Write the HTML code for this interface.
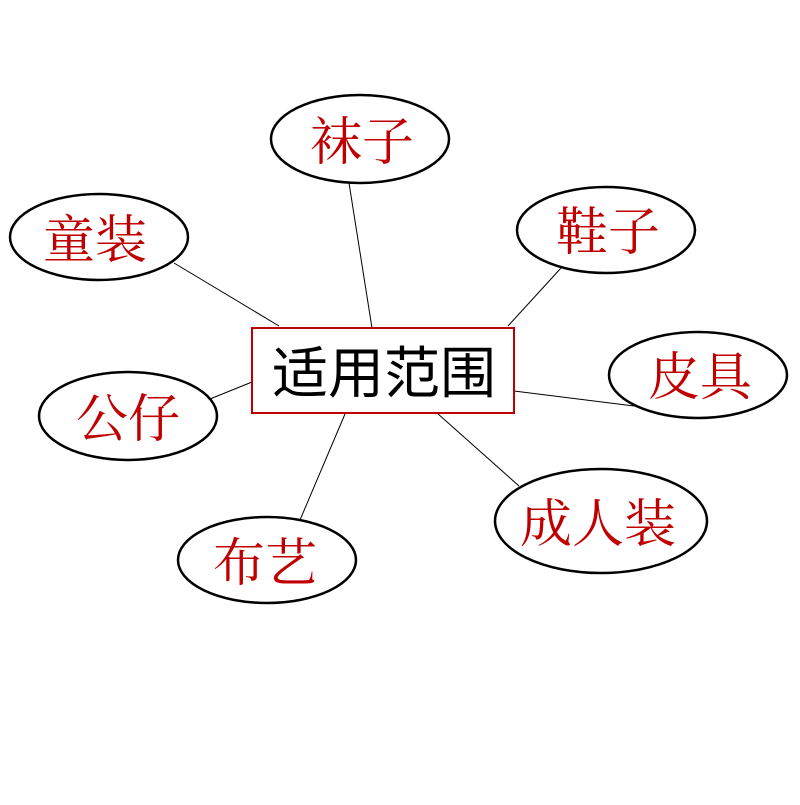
<!DOCTYPE html>
<html><head><meta charset="utf-8"><style>html,body{margin:0;padding:0;background:#fff}</style></head>
<body>
<svg width="800" height="800" xmlns="http://www.w3.org/2000/svg">
<g stroke="#000" stroke-width="1">
<line x1="349" y1="183" x2="372" y2="328"/>
<line x1="174" y1="263" x2="279" y2="326"/>
<line x1="561" y1="268" x2="508" y2="326"/>
<line x1="514" y1="391" x2="634" y2="406"/>
<line x1="210" y1="399" x2="252" y2="382"/>
<line x1="437" y1="413" x2="519" y2="486"/>
<line x1="345" y1="414" x2="300" y2="520"/>
</g>
<g fill="#fff" stroke="#000" stroke-width="2.5">
<ellipse cx="360" cy="139" rx="89" ry="44"/>
<ellipse cx="99" cy="237" rx="89" ry="43"/>
<ellipse cx="606" cy="230" rx="89" ry="43"/>
<ellipse cx="698" cy="375" rx="89" ry="43"/>
<ellipse cx="128" cy="416" rx="89" ry="44"/>
<ellipse cx="601" cy="521" rx="106" ry="52"/>
<ellipse cx="267" cy="560" rx="89" ry="43"/>
</g>
<rect x="252" y="328" width="262" height="85" fill="#fff" stroke="#c00000" stroke-width="2"/>
<text x="384" y="393" text-anchor="middle" font-family="'Noto Sans CJK SC',sans-serif" font-size="56" fill="#000">适用范围</text>
<g font-family="'Noto Serif CJK SC',serif" font-size="52" fill="#c00000" text-anchor="middle">
<text x="362" y="160">袜子</text>
<text x="95" y="258">童装</text>
<text x="608" y="250">鞋子</text>
<text x="700" y="395">皮具</text>
<text x="128" y="437">公仔</text>
<text x="598" y="542">成人装</text>
<text x="265" y="581">布艺</text>
</g>
</svg>
</body></html>
